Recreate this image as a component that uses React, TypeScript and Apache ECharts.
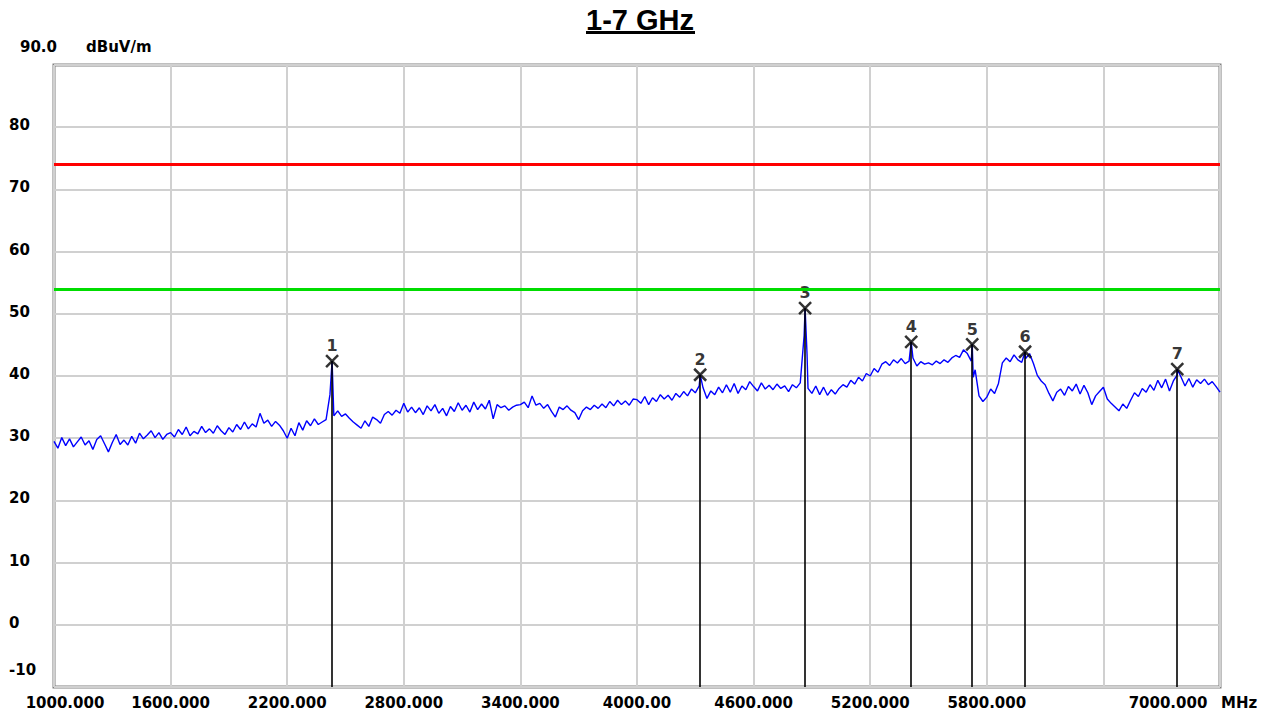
import React, { useEffect, useRef } from "react";
import * as echarts from "echarts";

// ---- data ----
const sweepStart = 1000;
const sweepStep = 20;
const levels1000 = [
  29.5, 28.4, 30.1, 28.8, 29.9, 28.6, 29.4, 30.2, 28.9, 29.6,
  28.2, 29.8, 30.4, 29.1, 27.8, 29.3, 30.6, 29.0, 29.7, 28.9,
  30.3, 29.2, 30.8, 29.9, 30.5, 31.2, 30.1, 30.9, 29.8, 30.6,
  30.9, 30.2, 31.4, 30.6, 31.8, 30.4, 31.1, 30.7, 31.9, 30.9,
  31.5, 30.8, 32.0, 31.2, 30.6, 31.7, 31.0, 32.2, 31.4, 32.6,
];
const levels2000 = [
  31.5, 32.3, 31.8, 34.0, 32.4, 32.9, 31.9, 32.7, 32.1, 31.2,
  30.0, 31.6, 30.4, 32.5, 31.3, 32.8, 32.0, 33.1, 32.2, 32.6,
  33.0, 37.0, 33.6, 34.4, 33.5, 33.9, 33.2, 32.6, 32.1, 31.6,
  32.8, 31.9, 33.4, 33.0, 32.4, 33.8, 34.3, 33.7, 34.5, 34.0,
  35.6, 34.2, 35.0, 34.1, 34.9, 33.8, 35.2, 34.4, 35.4, 34.0,
];
const levels3000 = [
  34.8, 33.6, 35.1, 34.3, 35.7, 34.5, 35.3, 34.2, 35.8, 34.6,
  35.5, 34.7, 36.1, 33.1, 35.4, 34.9, 35.2, 34.5, 35.0, 35.3,
  35.4, 35.8, 34.9, 36.8, 35.3, 35.6, 34.8, 35.4, 34.3, 33.4,
  35.0, 34.6, 35.2, 34.5, 34.1, 33.0, 34.4, 35.0, 34.6, 35.3,
  34.8, 35.5, 34.9, 35.9, 35.2, 36.1, 35.4, 36.0, 35.3, 36.3,
];
const levels4000 = [
  36.2, 35.6, 36.7, 35.4, 36.5, 35.9, 37.0, 36.3, 36.9, 36.1,
  37.2, 36.6, 37.5, 36.8, 37.9, 37.3, 38.4, 38.1, 36.4, 37.6,
  37.0, 38.2, 37.3, 38.6, 37.4, 38.8, 37.2, 38.4, 37.8, 39.1,
  38.3, 37.6, 38.9, 37.9, 38.5, 37.8, 38.7, 38.0, 38.4, 37.5,
  38.6, 38.1, 38.9, 46.5, 38.0, 37.2, 38.4, 37.0, 38.2, 36.9,
];
const levels5000 = [
  37.8, 37.1, 38.0, 38.6, 38.2, 39.3, 38.7, 39.8, 39.2, 40.4,
  40.0, 41.2, 40.6, 41.9, 42.3, 41.7, 42.6, 42.1, 42.8, 42.0,
  42.4, 42.9, 41.6, 42.3, 41.9, 42.1, 41.8, 42.4, 42.0, 42.6,
  42.2, 42.9, 43.3, 43.0, 44.2, 43.6, 42.4, 41.0, 36.8, 35.9,
  36.6, 37.9, 37.2, 38.8, 42.1, 42.9, 42.3, 43.4, 42.6, 42.2,
];
const levels6000 = [
  42.8, 43.6, 42.0, 40.1, 39.2, 38.6, 37.2, 36.0, 37.4, 37.9,
  36.9, 38.3, 37.6, 38.7, 37.1, 38.5, 37.3, 35.4, 36.8, 37.5,
  38.2, 36.3, 35.6, 35.0, 34.4, 35.5, 34.8, 36.1, 37.3, 36.7,
  38.0, 37.4, 38.6, 37.7, 39.3, 38.1, 39.5, 37.6, 39.2, 40.2,
  39.8, 38.4, 39.6, 38.2, 39.4, 38.8, 39.5, 38.6, 39.1, 38.3,
];
const levels7000 = [37.4];

const extraFreqs = [4875, 5730];
const extraLevels = [43.5, 39.8];

const markerNames = ["1", "2", "3", "4", "5", "6", "7"];
const markerFreqs = [2431, 4325, 4865, 5411, 5725, 5997, 6780];
const markerLevels = [42.4, 40.2, 50.9, 45.5, 45.1, 43.9, 41.1];

const limitRed = 74;
const limitGreen = 54;

const xMin = 1000;
const xMax = 7000;
const xStep = 600;
const xTickValues = [1000, 1600, 2200, 2800, 3400, 4000, 4600, 5200, 5800, 6400, 7000];
const xTickLabels = ["1000.000", "1600.000", "2200.000", "2800.000", "3400.000", "4000.00", "4600.000", "5200.000", "5800.000", "", "7000.000"];
const yMin = -10;
const yMax = 90;
const yStep = 10;
const yTickValues = [80, 70, 60, 50, 40, 30, 20, 10, 0];
const yTickLabels = ["80", "70", "60", "50", "40", "30", "20", "10", "0"];

const titleText = "1-7 GHz";
const yUnitText = "dBuV/m";
const yTopText = "90.0";
const yBottomText = "-10";
const xUnitText = "MHz";

const FONT = "'DejaVu Sans', sans-serif";

export default function App() {
  const ref = useRef<HTMLDivElement>(null);
  useEffect(() => {
    if (!ref.current) return;
    const chart = echarts.init(ref.current, null, { renderer: "svg" });

    const allLevels = [
      ...levels1000, ...levels2000, ...levels3000,
      ...levels4000, ...levels5000, ...levels6000, ...levels7000,
    ];
    const pts: [number, number][] = allLevels.map((v, i) => [sweepStart + i * sweepStep, v]);
    extraFreqs.forEach((f, i) => pts.push([f, extraLevels[i]]));
    markerFreqs.forEach((f, i) => pts.push([f, markerLevels[i]]));
    pts.sort((a, b) => a[0] - b[0]);

    const markerData = markerFreqs.map((f, i) => [f, markerLevels[i]]);

    const baseGraphics: any[] = [
      { type: "text", x: 640, y: 5, style: { text: titleText, fill: "#000", align: "center", font: "bold 29px 'Liberation Sans', Arial, sans-serif" } },
      { type: "rect", shape: { x: 586, y: 31, width: 109, height: 3 }, style: { fill: "#000" } },
      { type: "text", x: 20, y: 47, style: { text: yTopText, fill: "#000", font: "bold 15px " + FONT, verticalAlign: "middle" } },
      { type: "text", x: 86, y: 47, style: { text: yUnitText, fill: "#000", font: "bold 15px " + FONT, verticalAlign: "middle" } },
      { type: "text", x: 9, y: 670, style: { text: yBottomText, fill: "#000", font: "bold 15px " + FONT, verticalAlign: "middle" } },
      { type: "text", x: 1221, y: 703, style: { text: xUnitText, fill: "#000", font: "bold 15px " + FONT, verticalAlign: "middle" } },
    ];

    chart.setOption({
      animation: false,
      backgroundColor: "#ffffff",
      grid: {
        left: 54, right: 48, top: 65, bottom: 29,
        containLabel: false, outerBoundsMode: "none",
        show: true, borderColor: "#808080", borderWidth: 3,
      },
      xAxis: {
        type: "value", min: xMin, max: xMax, interval: xStep,
        axisLine: { show: false }, axisTick: { show: false },
        splitLine: { show: true, lineStyle: { color: "#d0d0d0", width: 2 } },
        axisLabel: {
          showMinLabel: true, showMaxLabel: true,
          margin: 8,
          color: "#000", fontFamily: FONT, fontWeight: "bold", fontSize: 15,
          formatter: (v: number) => {
            const idx = xTickValues.indexOf(v);
            const s = idx >= 0 ? xTickLabels[idx] : "";
            if (v === xMin) return "{first|" + s + "}";
            if (v === xMax) return "{last|" + s + "}";
            return s;
          },
          rich: {
            first: { padding: [0, 0, 0, 22], color: "#000", fontFamily: FONT, fontWeight: "bold", fontSize: 15 },
            last: { padding: [0, 104, 0, 0], color: "#000", fontFamily: FONT, fontWeight: "bold", fontSize: 15 },
          },
        },
      },
      yAxis: {
        type: "value", min: yMin, max: yMax, interval: yStep,
        axisLine: { show: false }, axisTick: { show: false },
        splitLine: { show: true, lineStyle: { color: "#d0d0d0", width: 2 } },
        axisLabel: { show: false },
      },
      graphic: baseGraphics,
      series: [
        {
          type: "line",
          data: pts,
          showSymbol: false,
          lineStyle: { color: "#0000ff", width: 1.4 },
          itemStyle: { color: "#0000ff" },
          z: 2,
          silent: true,
          markLine: {
            silent: true,
            symbol: ["none", "none"],
            label: { show: false },
            data: [
              { yAxis: limitRed, lineStyle: { color: "#ff0000", width: 3, type: "solid" } },
              { yAxis: limitGreen, lineStyle: { color: "#00dd00", width: 3, type: "solid" } },
            ],
          },
        },
        {
          type: "scatter",
          data: markerData,
          symbol: "path://M0,0L12,12M12,0L0,12",
          symbolSize: 12,
          itemStyle: { color: "rgba(0,0,0,0)", borderColor: "#000", borderWidth: 2.5 },
          z: 4,
          silent: true,
          label: {
            show: true, position: "top", distance: 0,
            formatter: (p: any) => markerNames[p.dataIndex],
            color: "#000", fontFamily: FONT, fontWeight: "bold", fontSize: 16,
          },
          markLine: {
            silent: true,
            symbol: ["none", "none"],
            label: { show: false },
            lineStyle: { color: "#000", width: 1.6, type: "solid" },
            data: markerFreqs.map((f, i) => [
              { coord: [f, yMin] },
              { coord: [f, markerLevels[i]] },
            ]),
          },
        },
      ],
    });

    const yLabelGraphics = yTickValues.map((v, i) => ({
      type: "text",
      x: 9,
      y: (chart.convertToPixel({ yAxisIndex: 0 }, v) as number) - 2,
      style: { text: yTickLabels[i], fill: "#000", font: "bold 15px " + FONT, verticalAlign: "middle" },
    }));
    chart.setOption({ graphic: [...baseGraphics, ...yLabelGraphics] });

    return () => chart.dispose();
  }, []);
  return <div ref={ref} style={{ width: 1268, height: 716, margin: -8 }} />;
}
